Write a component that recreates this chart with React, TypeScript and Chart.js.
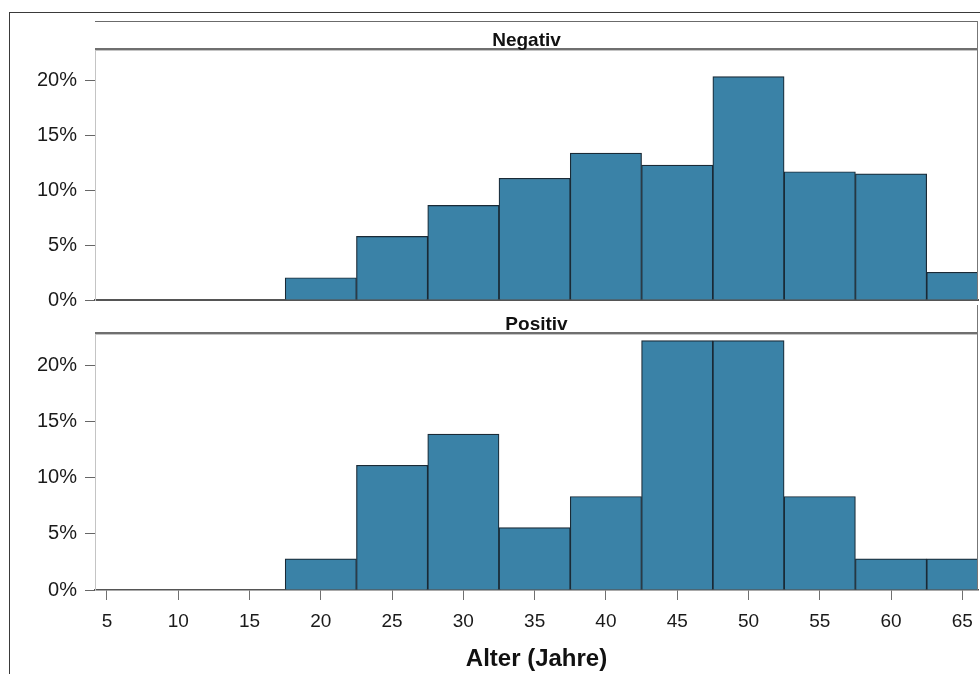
import React, { useEffect, useRef } from "react";
import { Chart, registerables } from "chart.js";

Chart.register(...registerables);

// ---- data ----
const ageBins = [5, 10, 15, 20, 25, 30, 35, 40, 45, 50, 55, 60, 65];
const negativPercent = [0, 0, 0, 2.03, 5.8, 8.63, 11.1, 13.4, 12.3, 20.38, 11.7, 11.5, 2.53];
const positivPercent = [0, 0, 0, 2.78, 11.11, 13.89, 5.56, 8.33, 22.22, 22.22, 8.33, 2.78, 2.78];
const yTickValues = [0, 5, 10, 15, 20];
const xTickValues = [5, 10, 15, 20, 25, 30, 35, 40, 45, 50, 55, 60, 65];
const panelLabels = ["Negativ", "Positiv"];
const xAxisTitle = "Alter (Jahre)";

const X_MIN = 4.16;
const X_MAX = 66.1;
const Y_MAX = 22.8;

const FONT = '"Liberation Sans", Arial, Helvetica, sans-serif';
const BAR_FILL = "#3a82a7";
const BAR_EDGE = "#1a2a36";

function makeStripPlugin(label: string, dx: number, drawTop: boolean) {
  return {
    id: "strip" + label,
    afterDraw(chart: any) {
      const { ctx, chartArea: a } = chart;
      const top = a.top - 29;
      const w = a.right - a.left;
      ctx.save();
      if (drawTop) {
        ctx.fillStyle = "#6b6b6b";
        ctx.fillRect(a.left, top, w, 1);
      }
      ctx.fillStyle = "#6f6f6f";
      ctx.fillRect(a.left, a.top - 2, w, 2);
      ctx.fillStyle = "#c4c4c4";
      ctx.fillRect(a.left, a.top, w, 1);
      ctx.fillStyle = "#777777";
      ctx.fillRect(a.right - 1, top, 1, a.bottom - top);
      ctx.font = "bold 19px " + FONT;
      ctx.fillStyle = "#111111";
      ctx.textAlign = "center";
      ctx.textBaseline = "alphabetic";
      ctx.fillText(label, (a.left + a.right) / 2 + dx, top + 25);
      ctx.restore();
    },
  };
}

function makeConfig(values: number[], label: string, dx: number, showX: boolean, padTop: number, drawTop: boolean): any {
  return {
    type: "bar",
    data: {
      datasets: [
        {
          data: ageBins.map((x, i) => ({ x, y: values[i] })),
          backgroundColor: BAR_FILL,
          borderColor: BAR_EDGE,
          borderWidth: 1.2,
          barPercentage: 1,
          categoryPercentage: 1,
        },
      ],
    },
    options: {
      animation: false,
      responsive: false,
      maintainAspectRatio: false,
      devicePixelRatio: 1,
      layout: { padding: { top: padTop, right: 2, left: 0, bottom: 0 } },
      plugins: { legend: { display: false }, tooltip: { enabled: false } },
      scales: {
        x: {
          type: "linear",
          min: X_MIN,
          max: X_MAX,
          offset: false,
          afterBuildTicks: (s: any) => {
            s.ticks = xTickValues.map((v) => ({ value: v }));
          },
          afterFit: (s: any) => {
            s.height = showX ? 84 : 15;
            s.paddingLeft = 0;
            s.paddingRight = 0;
          },
          ticks: {
            display: showX,
            font: { family: FONT, size: 19 },
            color: "#1a1a1a",
            padding: 10,
            maxRotation: 0,
            autoSkip: false,
          },
          grid: {
            display: showX,
            offset: false,
            drawOnChartArea: false,
            tickLength: 10,
            tickColor: "#707070",
            color: "#707070",
          },
          border: { display: true, color: "#555555", width: showX ? 1.5 : 2 },
          title: {
            display: showX,
            text: xAxisTitle,
            font: { family: FONT, size: 24, weight: "bold" },
            color: "#111111",
            padding: { top: 0, bottom: 0 },
          },
        },
        y: {
          min: 0,
          max: Y_MAX,
          afterBuildTicks: (s: any) => {
            s.ticks = yTickValues.map((v) => ({ value: v }));
          },
          afterFit: (s: any) => {
            s.width = 95;
          },
          ticks: {
            callback: (v: any) => v + "%",
            font: { family: FONT, size: 20 },
            color: "#1a1a1a",
            padding: 8,
          },
          grid: {
            drawOnChartArea: false,
            tickLength: 10,
            tickColor: "#666666",
            color: "#666666",
          },
          border: { color: "#c4c4c4", width: 1 },
        },
      },
    },
    plugins: [makeStripPlugin(label, dx, drawTop)],
  };
}

export default function App() {
  const ref1 = useRef<HTMLCanvasElement>(null);
  const ref2 = useRef<HTMLCanvasElement>(null);

  useEffect(() => {
    const c1 = new Chart(ref1.current as HTMLCanvasElement, makeConfig(negativPercent, panelLabels[0], -10, false, 50, true));
    const c2 = new Chart(ref2.current as HTMLCanvasElement, makeConfig(positivPercent, panelLabels[1], 0, true, 44, false));
    return () => {
      c1.destroy();
      c2.destroy();
    };
  }, []);

  return (
    <div
      style={{
        position: "absolute",
        left: 0,
        top: 0,
        width: 980,
        height: 674,
        overflow: "hidden",
        background: "#ffffff",
      }}
    >
      <div
        style={{
          position: "absolute",
          left: 9,
          top: 12,
          width: 990,
          height: 700,
          borderTop: "1px solid #3a3a3a",
          borderLeft: "1px solid #3a3a3a",
        }}
      />
      <canvas ref={ref1} width={980} height={320} style={{ position: "absolute", left: 0, top: 0 }} />
      <canvas ref={ref2} width={980} height={384} style={{ position: "absolute", left: 0, top: 290 }} />
    </div>
  );
}
